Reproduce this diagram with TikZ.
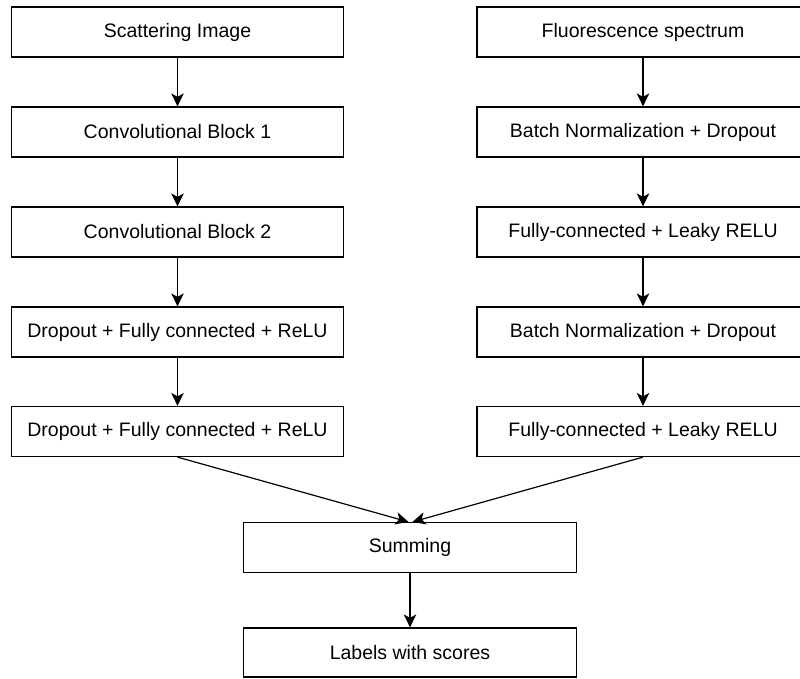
\documentclass[tikz,border=0pt]{standalone}
\usepackage{fontspec}
\setmainfont{Liberation Sans}
\usetikzlibrary{arrows.meta}
\begin{document}
\begin{tikzpicture}[x=1pt,y=-1pt,
  box/.style={draw=black, line width=1.2pt, fill=white, inner sep=0pt,
    minimum height=50pt, font=\fontsize{19.5}{23}\selectfont},
  lbox/.style={box, minimum width=331.5pt},
  rbox/.style={box, minimum width=332pt},
  cbox/.style={box, minimum width=333.4pt},
  arr/.style={line width=1.2pt, -{Stealth[length=13pt, width=12.5pt, inset=3.5pt]}}]
\useasboundingbox (0,0) rectangle (800,678);
% left column
\node[lbox] (l1) at (177.5,32) {Scattering Image};
\node[lbox] (l2) at (177.5,132) {Convolutional Block 1};
\node[lbox] (l3) at (177.5,232) {Convolutional Block 2};
\node[lbox] (l4) at (177.5,332) {Dropout + Fully connected + ReLU};
\node[lbox] (l5) at (177.5,431.5) {Dropout + Fully connected + ReLU};
% right column
\node[rbox] (r1) at (643,32) {Fluorescence spectrum};
\node[rbox] (r2) at (643,132) {Batch Normalization + Dropout};
\node[rbox] (r3) at (643,232) {Fully-connected + Leaky RELU};
\node[rbox] (r4) at (643,332) {Batch Normalization + Dropout};
\node[rbox] (r5) at (643,431.5) {Fully-connected + Leaky RELU};
% bottom
\node[cbox] (sum) at (410,547.5) {Summing};
\node[cbox, minimum height=49pt] (lab) at (410,652.5) {Labels with scores};
% connectors
\draw[arr] (l1) -- (l2);
\draw[arr] (l2) -- (l3);
\draw[arr] (l3) -- (l4);
\draw[arr] (l4) -- (l5);
\draw[arr] (r1) -- (r2);
\draw[arr] (r2) -- (r3);
\draw[arr] (r3) -- (r4);
\draw[arr] (r4) -- (r5);
\draw[arr] (l5.south) -- ([xshift=-1.5pt]sum.north);
\draw[arr] (r5.south) -- ([xshift=2.5pt]sum.north);
\draw[arr] (sum) -- (lab);
\end{tikzpicture}
\end{document}
